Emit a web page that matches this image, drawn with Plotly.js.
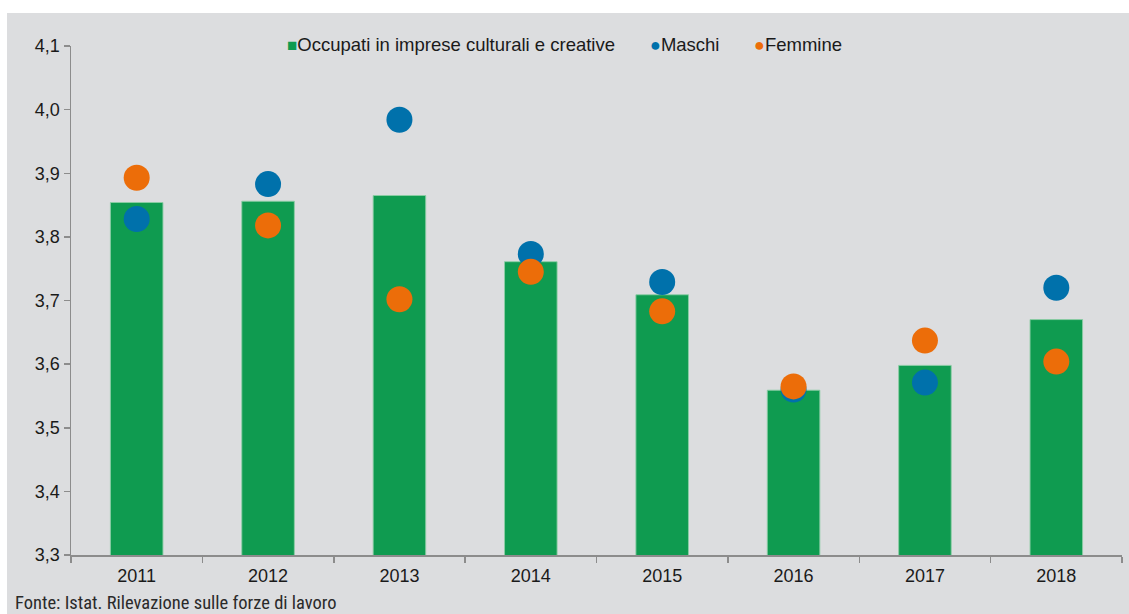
<!DOCTYPE html>
<html>
<head>
<meta charset="utf-8">
<script src="https://cdn.plot.ly/plotly-3.0.1.min.js"></script>
<style>
  html, body { margin: 0; padding: 0; background: #ffffff; width: 1129px; height: 614px; overflow: hidden; }
  #chart { position: absolute; left: 7px; top: 13px; width: 1122px; height: 601px; }
</style>
</head>
<body>
<div id="chart"></div>
<script>
const years = ['2011', '2012', '2013', '2014', '2015', '2016', '2017', '2018'];
const occupati = [3.854, 3.856, 3.865, 3.761, 3.709, 3.559, 3.598, 3.670];
const maschi = [3.828, 3.883, 3.984, 3.773, 3.729, 3.560, 3.571, 3.720];
const femmine = [3.893, 3.818, 3.702, 3.745, 3.683, 3.565, 3.637, 3.604];
const yTicks = [3.3, 3.4, 3.5, 3.6, 3.7, 3.8, 3.9, 4.0, 4.1];
const seriesNames = ['Occupati in imprese culturali e creative', 'Maschi', 'Femmine'];
const seriesColors = ['#0f9b50', '#0071ab', '#ec6d09'];
const legendSymbols = ['■', '●', '●'];

const font = 'Liberation Sans, Arial, sans-serif';

const traces = [
  {
    type: 'bar', x: years, y: occupati, name: seriesNames[0],
    marker: { color: seriesColors[0], line: { color: 'rgba(140,205,165,0.9)', width: 1 } },
    hoverinfo: 'skip'
  },
  {
    type: 'scatter', mode: 'markers', x: years, y: maschi, name: seriesNames[1],
    marker: { color: seriesColors[1], size: 26 }, hoverinfo: 'skip'
  },
  {
    type: 'scatter', mode: 'markers', x: years, y: femmine, name: seriesNames[2],
    marker: { color: seriesColors[2], size: 26 }, hoverinfo: 'skip'
  }
];

// legend drawn as text annotations (compact, like the original)
const legendX = [0.2035, 0.5494, 0.6484];
const legendSymSize = [17, 18, 18];
const legendAnn = seriesNames.map((n, i) => ({
  text: '<span style="color:' + seriesColors[i] + ';font-size:' + legendSymSize[i] + 'px">' + legendSymbols[i] + '</span>' + n,
  xref: 'paper', yref: 'paper', x: legendX[i], y: 1.002,
  xanchor: 'left', yanchor: 'middle', showarrow: false,
  font: { family: font, size: 18.5, color: '#1a1a1a' }
}));

const layout = {
  width: 1122, height: 601,
  margin: { l: 64, r: 7, t: 33, b: 59 },
  paper_bgcolor: '#dcdddf',
  plot_bgcolor: '#dcdddf',
  separators: ',.',
  bargap: 0.6,
  showlegend: false,
  font: { family: font, size: 18, color: '#1a1a1a' },
  xaxis: {
    type: 'category', showgrid: false, zeroline: false,
    showline: true, linecolor: '#8c8c8c', linewidth: 1.5,
    ticks: 'outside', tickson: 'boundaries', ticklen: 6, tickcolor: '#8c8c8c', tickwidth: 1.5,
    ticklabelstandoff: 4,
    tickfont: { family: font, size: 18, color: '#1a1a1a' },
    range: [-0.5, 7.5], fixedrange: true
  },
  yaxis: {
    range: [3.3, 4.1], tickvals: yTicks, tickformat: '.1f',
    showgrid: false, zeroline: false,
    showline: true, linecolor: '#8c8c8c', linewidth: 1.5,
    ticks: 'outside', ticklen: 6, tickcolor: '#8c8c8c', tickwidth: 1.5,
    tickfont: { family: font, size: 18, color: '#1a1a1a' },
    fixedrange: true
  },
  annotations: legendAnn.concat([
    {
      text: 'Fonte: Istat. Rilevazione sulle forze di lavoro',
      xref: 'paper', yref: 'paper', x: -0.0553, y: -0.094,
      xanchor: 'left', yanchor: 'middle', showarrow: false,
      font: { family: 'Liberation Sans Narrow, Arial Narrow, Roboto Condensed, sans-serif', size: 18.5, color: '#2a2a2a' }
    }
  ])
};

Plotly.newPlot('chart', traces, layout, { displayModeBar: false, staticPlot: true });
</script>
</body>
</html>
